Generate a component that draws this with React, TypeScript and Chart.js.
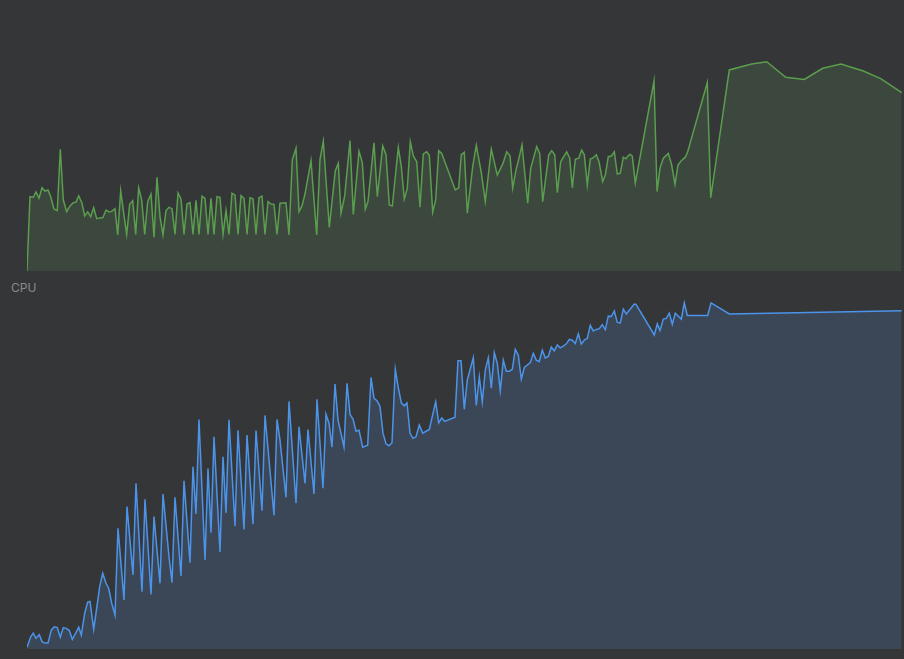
import React, { useEffect, useRef } from "react";
import { Chart, registerables } from "chart.js";

Chart.register(...registerables);

// Memory-like usage (top, green): time in seconds, value in %
const topTimes = [
  0, 0.3, 0.63, 0.9, 1.2, 1.5, 1.8, 2.1, 2.37, 2.7, 3.03, 3.33, 3.63, 3.97, 4.3, 4.63, 4.9, 5.17, 5.5, 5.77,
  6.07, 6.37, 6.67, 6.97, 7.3, 7.6, 7.9, 8.2, 8.47, 8.8, 9.07, 9.37, 9.67, 9.97, 10.27, 10.57, 10.87, 11.17,
  11.47, 11.77, 12.07, 12.4, 12.7, 13.0, 13.3, 13.6, 13.9, 14.2, 14.5, 14.8, 15.1, 15.4, 15.7, 16.0, 16.3,
  16.6, 16.9, 17.2, 17.5, 17.8, 18.1, 18.4, 18.7, 19.0, 19.3, 19.6, 19.9, 20.2, 20.5, 20.8, 21.1, 21.4, 21.7,
  22.0, 22.3, 22.6, 22.9, 23.2, 23.5, 23.8, 24.1, 24.4, 24.7, 25.0, 25.3, 25.9, 26.2, 26.53, 26.9, 27.2, 27.5,
  27.8, 28.4, 28.97, 29.3, 29.63, 30.23, 30.83, 31.13, 31.4, 31.77, 32.3, 32.63, 33.2, 33.53, 33.83, 34.1,
  34.7, 35.03, 35.57, 35.9, 36.23, 36.53, 37.13, 37.43, 37.73, 38.03, 38.33, 38.63, 38.97, 39.3, 39.63, 39.97,
  40.23, 40.57, 40.87, 41.17, 41.47, 42.83, 43.17, 43.43, 43.73, 44.03, 44.57, 44.93, 45.43, 45.83, 46.43,
  47.03, 47.6, 47.97, 48.3, 48.57, 48.9, 49.17, 49.5, 50.07, 50.37, 50.97, 51.27, 51.57, 52.17, 52.47, 52.77,
  53.03, 53.37, 53.97, 54.27, 54.53, 54.83, 55.17, 55.47, 55.73, 56.03, 56.33, 56.63, 56.93, 57.2, 57.57,
  57.83, 58.13, 58.43, 58.73, 59.03, 59.33, 59.63, 59.9, 60.03, 60.3, 60.53, 60.83, 62.7, 63.0, 63.3, 63.63,
  64.13, 64.47, 64.8, 65.1, 65.43, 65.83, 66.07, 68.03, 68.37, 70.23, 72.47, 73.97, 75.87, 77.73, 79.57, 81.4,
  83.63, 85.37, 87.47,
];
const topValues = [
  0, 27.4, 27.2, 29.2, 26.9, 30.7, 29.5, 29.9, 27.4, 22.9, 22.3, 44.9, 26.2, 21.9, 24.0, 25.2, 25.4, 27.7, 25.0,
  20.3, 21.8, 20.0, 23.4, 19.3, 19.6, 19.7, 22.5, 21.8, 22.0, 23.0, 13.3, 29.6, 21.3, 13.5, 24.7, 25.9, 13.5,
  30.7, 26.2, 13.5, 25.6, 28.4, 12.4, 34.6, 20.0, 13.3, 22.3, 23.5, 23.0, 13.5, 28.8, 26.6, 13.5, 24.7, 25.2,
  13.5, 26.1, 13.5, 27.6, 26.8, 13.5, 26.8, 13.5, 27.4, 27.2, 13.5, 22.3, 13.5, 28.7, 28.0, 13.5, 27.8, 26.8,
  13.5, 27.0, 26.6, 13.5, 27.0, 27.6, 13.5, 25.6, 24.7, 24.6, 13.5, 25.0, 25.2, 13.3, 41.0, 45.3, 21.9, 24.0,
  28.4, 40.7, 13.3, 41.2, 47.9, 16.1, 37.0, 39.7, 21.3, 27.7, 48.1, 20.9, 44.2, 40.0, 22.8, 25.6, 47.3, 27.4,
  46.1, 42.9, 24.4, 24.0, 45.6, 38.5, 26.5, 30.5, 47.7, 42.5, 40.3, 23.5, 43.2, 44.0, 42.7, 21.7, 26.2, 44.4,
  43.4, 29.9, 30.7, 42.9, 43.8, 21.3, 38.5, 46.4, 36.3, 25.6, 45.0, 35.4, 39.7, 44.0, 42.5, 30.5, 37.3, 41.2,
  46.5, 25.0, 37.9, 45.9, 43.4, 25.6, 42.8, 44.4, 42.9, 28.9, 40.3, 44.0, 41.6, 30.7, 41.2, 41.6, 44.6, 42.9,
  31.7, 41.3, 41.8, 42.9, 40.3, 33.0, 35.4, 42.2, 42.4, 44.0, 35.8, 36.1, 42.0, 41.4, 42.2, 43.1, 42.4, 32.4,
  70.1, 29.3, 37.9, 41.6, 43.4, 39.1, 32.0, 39.1, 40.7, 42.0, 44.0, 69.5, 27.0, 74.2, 76.4, 77.2, 71.5, 70.7,
  74.8, 76.4, 73.8, 71.0, 65.8,
];

// CPU usage (bottom, blue): time in seconds, value in %
const cpuTimes = [
  0, 0.37, 0.63, 0.9, 1.23, 1.5, 1.8, 2.1, 2.43, 2.73, 3.03, 3.33, 3.63, 3.93, 4.23, 4.53, 4.87, 5.17, 5.43,
  5.77, 6.07, 6.3, 6.67, 7.27, 7.57, 7.9, 8.17, 8.47, 8.8, 9.1, 9.7, 10.0, 10.6, 10.9, 11.5, 11.8, 12.4, 12.7,
  13.3, 13.6, 14.2, 14.5, 14.8, 15.4, 15.7, 16.3, 16.6, 16.9, 17.2, 17.8, 18.1, 18.4, 18.7, 19.3, 19.6, 19.9,
  20.2, 20.8, 21.1, 21.7, 22.0, 22.6, 22.9, 23.5, 23.8, 24.7, 25.0, 25.3, 25.9, 26.2, 26.9, 27.2, 27.8, 28.1,
  28.7, 29.0, 29.6, 29.9, 30.2, 30.5, 30.8, 31.1, 31.7, 32.0, 32.3, 32.6, 32.9, 33.2, 33.57, 34.07, 34.4, 34.7,
  35.0, 35.3, 35.6, 35.9, 36.2, 36.5, 36.83, 37.13, 37.43, 37.73, 38.0, 38.3, 38.6, 38.9, 39.23, 39.57, 40.23,
  40.87, 41.17, 41.47, 41.77, 42.8, 43.1, 43.4, 43.73, 44.03, 44.63, 44.93, 45.23, 45.53, 45.83, 46.13, 46.43,
  46.73, 47.03, 47.33, 47.63, 47.93, 48.23, 48.53, 48.83, 49.13, 49.43, 49.73, 50.33, 50.63, 50.93, 51.23,
  51.53, 51.83, 52.13, 52.43, 52.73, 53.03, 53.33, 53.63, 53.93, 54.23, 54.53, 54.83, 55.13, 55.43, 55.73,
  56.03, 56.33, 56.63, 56.93, 57.23, 57.53, 57.83, 58.13, 58.43, 58.73, 59.03, 59.33, 59.63, 59.93, 60.73,
  60.9, 62.73, 63.03, 63.3, 63.63, 63.93, 64.23, 64.53, 64.83, 65.13, 65.43, 65.73, 66.03, 68.07, 68.4, 70.23,
  87.47,
];
const cpuValues = [
  0.5, 3.3, 4.3, 2.9, 3.9, 2.0, 1.6, 1.6, 5.1, 6.0, 5.8, 3.2, 5.8, 5.6, 5.0, 2.6, 4.3, 5.9, 3.8, 9.7, 12.7, 12.9,
  5.3, 16.9, 20.5, 17.8, 16.4, 12.4, 9.2, 32.7, 13.3, 38.6, 20.1, 44.9, 15.5, 40.6, 14.8, 35.9, 17.8, 42.0, 25.0,
  18.0, 41.1, 19.8, 45.6, 23.4, 49.4, 36.6, 62.2, 24.1, 48.9, 31.5, 57.5, 26.3, 52.1, 36.9, 62.1, 33.3, 59.3,
  32.4, 58.0, 33.8, 59.2, 37.5, 63.3, 36.2, 62.2, 56.6, 41.1, 67.1, 39.5, 60.2, 44.9, 59.5, 42.0, 67.7, 43.6,
  63.6, 61.2, 54.7, 71.8, 62.1, 54.7, 72.0, 63.6, 62.3, 59.0, 59.3, 54.7, 55.2, 73.6, 67.9, 67.3, 65.7, 58.5,
  55.6, 55.1, 55.9, 75.8, 70.8, 66.7, 65.9, 66.7, 58.5, 57.1, 57.5, 60.7, 58.5, 59.5, 67.0, 61.3, 62.6, 61.7,
  62.8, 78.1, 78.1, 65.0, 72.9, 78.9, 66.0, 73.8, 66.9, 75.6, 78.9, 70.7, 80.3, 77.4, 70.0, 78.3, 75.3, 75.3,
  75.8, 81.2, 79.6, 73.1, 76.3, 77.6, 80.1, 78.3, 77.9, 81.0, 78.9, 79.3, 81.8, 80.8, 82.4, 81.6, 82.1, 82.7,
  83.9, 83.7, 82.8, 85.4, 82.6, 83.7, 84.2, 87.7, 86.2, 86.6, 86.8, 87.9, 86.5, 90.2, 90.1, 91.6, 88.5, 88.4,
  92.1, 90.8, 93.5, 93.4, 85.1, 88.1, 86.3, 89.4, 89.6, 91.0, 88.0, 91.0, 90.2, 89.4, 93.8, 90.4, 90.4, 93.8,
  90.8, 91.7,
];

const timeMax = 87.7;
const valueMax = 100;
const cpuLabel = "CPU";

function toPoints(xs: number[], ys: number[]) {
  return xs.map((x, i) => ({ x, y: ys[i] }));
}

function AreaChart(props: {
  xs: number[];
  ys: number[];
  line: string;
  fill: string;
  width: number;
  height: number;
}) {
  const ref = useRef<HTMLCanvasElement | null>(null);
  useEffect(() => {
    if (!ref.current) return;
    const chart = new Chart(ref.current, {
      type: "line",
      data: {
        datasets: [
          {
            data: toPoints(props.xs, props.ys),
            borderColor: props.line,
            backgroundColor: props.fill,
            borderWidth: 1.5,
            fill: "origin",
            tension: 0,
            pointRadius: 0,
            borderJoinStyle: "miter",
          },
        ],
      },
      options: {
        animation: false,
        responsive: false,
        devicePixelRatio: 1,
        layout: { padding: 0 },
        plugins: { legend: { display: false }, tooltip: { enabled: false } },
        scales: {
          x: { type: "linear", min: 0, max: timeMax, display: false },
          y: { min: 0, max: valueMax, display: false },
        },
      },
    });
    return () => chart.destroy();
  }, []);
  return <canvas ref={ref} width={props.width} height={props.height} style={{ display: "block" }} />;
}

export default function App() {
  return (
    <div
      style={{
        position: "fixed",
        left: 0,
        top: 0,
        width: 904,
        height: 659,
        background: "#353638",
        overflow: "hidden",
      }}
    >
      <div style={{ position: "absolute", left: 27, top: 0 }}>
        <AreaChart xs={topTimes} ys={topValues} line="#5a9e4e" fill="#3c473e" width={877} height={271} />
      </div>
      <div
        style={{
          position: "absolute",
          left: 11,
          top: 280,
          fontFamily: "Inter, 'Noto Sans', sans-serif",
          fontSize: 12,
          color: "#8a8b8d",
        }}
      >
        {cpuLabel}
      </div>
      <div style={{ position: "absolute", left: 27, top: 280 }}>
        <AreaChart xs={cpuTimes} ys={cpuValues} line="#4c94ea" fill="#3b4757" width={877} height={369} />
      </div>
    </div>
  );
}
